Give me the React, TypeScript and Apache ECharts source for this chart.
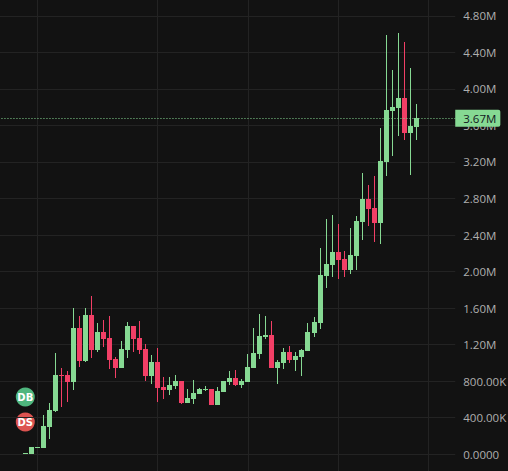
import React, { useEffect, useRef } from "react";
import * as echarts from "echarts";

const BG = "#121212";
const UP = "#86D993";
const DOWN = "#F23F66";
const GRID = "#232323";

const opens = [0.005,0.003,0.075,0.07,0.30,0.474,0.868,0.868,0.79,1.382,1.021,1.524,1.142,1.339,1.273,1.043,0.945,1.142,1.404,1.273,1.153,0.857,1.01,0.737,0.704,0.748,0.802,0.561,0.605,0.66,0.704,0.715,0.54,0.682,0.791,0.835,0.758,0.791,0.944,1.098,1.284,1.306,0.944,0.999,1.12,1.032,1.065,1.131,1.328,1.437,1.951,2.071,2.213,2.137,2.017,2.17,2.542,2.794,2.696,2.531,3.2,3.757,3.79,3.9,3.517,3.582];
const closes = [0.012,0.08,0.082,0.31,0.485,0.868,0.86,0.79,1.382,1.021,1.524,1.142,1.339,1.262,1.032,0.945,1.153,1.404,1.262,1.142,0.857,1.01,0.726,0.704,0.758,0.802,0.561,0.616,0.671,0.715,0.715,0.54,0.693,0.802,0.835,0.758,0.802,0.955,1.109,1.295,1.306,0.944,1.01,1.12,1.032,1.076,1.142,1.339,1.448,1.962,2.082,2.213,2.126,2.017,2.181,2.553,2.794,2.685,2.531,3.21,3.767,3.80,3.90,3.517,3.593,3.68];
const lows = [0.005,0.003,0.075,0.07,0.167,0.463,0.518,0.572,0.704,0.955,1.01,1.054,1.12,1.174,0.933,0.835,0.945,1.054,1.12,1.098,0.802,0.769,0.572,0.605,0.649,0.715,0.55,0.561,0.55,0.66,0.693,0.54,0.54,0.682,0.758,0.748,0.726,0.791,0.944,1.043,1.262,0.944,0.769,0.934,0.999,0.912,0.857,1.131,1.284,1.372,1.82,1.94,1.918,1.94,1.973,2.017,2.345,2.499,2.324,2.302,3.05,3.265,3.484,3.44,3.056,3.44];
const highs = [0.012,0.08,0.082,0.43,0.558,1.108,0.945,0.912,1.6,1.514,1.6,1.733,1.437,1.47,1.514,1.065,1.24,1.448,1.404,1.459,1.207,1.087,1.163,0.846,0.846,0.868,0.802,0.715,0.813,0.726,0.748,0.715,0.737,0.802,0.912,0.923,0.824,1.098,1.382,1.535,1.514,1.459,1.032,1.163,1.185,1.12,1.153,1.437,1.502,2.257,2.575,2.619,2.52,2.224,2.476,2.608,3.079,2.947,3.046,3.57,4.59,4.206,4.61,4.51,4.228,3.833];
const tickLabels = ["","0.0000","400.00K","800.00K","1.20M","1.60M","2.00M","2.40M","2.80M","3.20M","3.60M","4.00M","4.40M","4.80M",""];
const currentPrice = 3.677;
const currentLabel = "3.67M";
const leadEmpty = 4;
const totalBands = 76;
const gridLineIndexes = [2, 22, 37, 52, 67];
const OFFSET_X = 10;
const OFFSET_Y = 30;
const badges = [
  { text: "DB", color: "#4FB67E", y: 397 },
  { text: "DS", color: "#DC5350", y: 422 },
];

const FONT = "'Open Sans', Roboto, sans-serif";

function renderCandle(_params: any, api: any) {
  const cat = api.value(0);
  const o = api.value(1);
  const c = api.value(2);
  const l = api.value(3);
  const h = api.value(4);
  const col = Math.floor(api.coord([cat, o])[0]);
  const yOf = (v: number) => Math.round(api.coord([cat, v])[1]);
  const top = Math.min(yOf(o), yOf(c));
  const bottom = Math.max(yOf(o), yOf(c));
  const fill = c >= o ? UP : DOWN;
  return {
    type: "group",
    children: [
      {
        type: "rect",
        shape: { x: col, y: yOf(h), width: 1, height: Math.max(1, yOf(l) - yOf(h)) },
        style: { fill },
      },
      {
        type: "rect",
        shape: { x: col - 2, y: top, width: 5, height: Math.max(1, bottom - top) },
        style: { fill },
      },
    ],
  };
}

export default function App() {
  const ref = useRef<HTMLDivElement>(null);
  useEffect(() => {
    document.body.style.margin = "0";
    document.body.style.background = BG;
    document.body.style.overflow = "hidden";
    const chart = echarts.init(ref.current!, undefined, { renderer: "svg" });
    const categories = Array.from({ length: totalBands }, (_, i) => String(i));
    const candle = opens.map((_, k) => [
      k + leadEmpty,
      opens[k] * 1e6,
      closes[k] * 1e6,
      lows[k] * 1e6,
      highs[k] * 1e6,
    ]);
    const gridSet = new Set(gridLineIndexes.map((i) => i + leadEmpty));
    chart.setOption({
      animation: false,
      backgroundColor: BG,
      grid: {
        left: OFFSET_X - 1.525,
        width: 456.76,
        top: OFFSET_Y - 20.77,
        height: 511.6,
        containLabel: false,
        outerBoundsMode: "none",
      },
      xAxis: {
        type: "category",
        data: categories,
        axisLine: { show: false },
        axisTick: { show: false },
        axisLabel: { show: false },
        splitLine: {
          show: true,
          alignWithLabel: true,
          interval: (i: number) => gridSet.has(i),
          lineStyle: { color: GRID, width: 1 },
        },
      },
      yAxis: {
        type: "value",
        position: "right",
        min: -400000,
        max: 5200000,
        interval: 400000,
        axisLine: { show: false },
        axisTick: { show: false },
        axisLabel: {
          show: true,
          margin: 8,
          showMinLabel: true,
          showMaxLabel: true,
          color: "#AFAFAF",
          fontFamily: FONT,
          fontSize: 11.5,
          formatter: (v: number) => tickLabels[Math.round(v / 400000) + 1] ?? "",
        },
        splitLine: { show: true, lineStyle: { color: GRID, width: 1 } },
      },
      series: [
        {
          type: "custom",
          data: candle,
          encode: { x: 0, y: [1, 2, 3, 4] },
          renderItem: renderCandle,
          clip: false,
          markLine: {
            symbol: "none",
            silent: true,
            animation: false,
            data: [{ yAxis: currentPrice * 1e6 }],
            lineStyle: { color: UP, type: [1, 2], dashOffset: 0.475, width: 1, opacity: 1 },
            label: {
              show: true,
              position: "end",
              distance: 0,
              formatter: () => currentLabel,
              backgroundColor: UP,
              borderRadius: [0, 2, 2, 0],
              color: "#131722",
              fontFamily: FONT,
              fontSize: 11.5,
              padding: [3, 4, 2, 8],
            },
          },
        },
      ],
      graphic: badges.flatMap((b) => [
        { type: "circle", shape: { cx: OFFSET_X + 25.3, cy: OFFSET_Y + b.y, r: 9.5 }, style: { fill: b.color } },
        {
          type: "text",
          x: OFFSET_X + 25.3,
          y: OFFSET_Y + b.y,
          style: {
            text: b.text,
            fill: "#FFFFFF",
            font: "bold 10px 'DejaVu Sans', sans-serif",
            align: "center",
            verticalAlign: "middle",
          },
        },
      ]),
    });
    return () => chart.dispose();
  }, []);
  return (
    <div
      ref={ref}
      style={{ position: "absolute", left: -OFFSET_X, top: -OFFSET_Y, width: 508 + OFFSET_X, height: 471 + 2 * OFFSET_Y }}
    />
  );
}
